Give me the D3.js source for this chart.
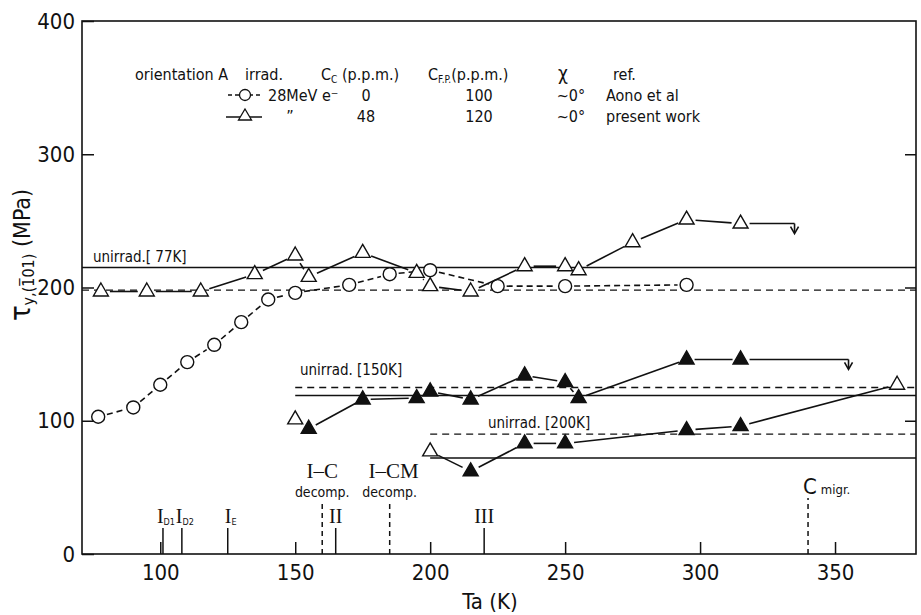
<!DOCTYPE html>
<html>
<head>
<meta charset="utf-8">
<script src="https://cdn.jsdelivr.net/npm/d3@7/dist/d3.min.js"></script>
<style>
  html, body { margin: 0; padding: 0; background: #fff; }
  svg { display: block; }
  text { fill: #111; }
</style>
</head>
<body>
<svg id="chart" width="921" height="615"></svg>
<script>
// ---------------- data ----------------
// Aono et al: 28 MeV e-, open circles, dashed line
const aonoT   = [77, 90, 100, 110, 120, 130, 140, 150, 170, 185, 200, 225, 250, 295];
const aonoTau = [103, 110, 127, 144, 157, 174, 191, 196, 202, 210, 213, 201, 201, 202];

// present work, open triangles, solid line (77 K deformation)
const openT   = [78, 95, 115, 135, 150, 155, 175, 195, 200, 215, 235, 250, 255, 275, 295, 315];
const openTau = [197, 197, 197, 210, 224, 208, 226, 211, 201, 197, 216, 216, 213, 234, 251, 248];
const openArrowT = 335;

// present work, 150 K deformation (open start, filled triangles)
const f150StartT = 150, f150StartTau = 101;
const f150T   = [155, 175, 195, 200, 215, 235, 250, 255, 295, 315];
const f150Tau = [94, 116, 117, 122, 116, 134, 129, 117, 146, 146];
const f150ArrowT = 355;

// present work, 200 K deformation (open start/end, filled triangles)
const f200StartT = 200, f200StartTau = 77;
const f200T   = [215, 235, 250, 295, 315];
const f200Tau = [62, 83, 83, 93, 96];
const f200EndT = 373, f200EndTau = 127;

// unirradiated reference levels
const unirradLabels = ["unirrad.[ 77K]", "unirrad. [150K]", "unirrad. [200K]"];
const unirradFromT  = [71, 150, 200];
const unirradSolid  = [215, 119, 72];   // present work
const unirradDashed = [198, 125, 90];   // Aono et al

// recovery stage markers
const stageT      = [101, 108, 125, 165, 220];
const stageLabels = ["I", "I", "I", "II", "III"];
const stageSubs   = ["D1", "D2", "E", "", ""];
const decompT      = [160, 185];
const decompLabels = ["I\u2013C", "I\u2013CM"];
const migrT = 340;

const yTicks = [0, 100, 200, 300, 400];
const xTicks = [100, 150, 200, 250, 300, 350];

// legend
const legendHeader = ["orientation A", "irrad.", "C", "C", "\u03c7", "ref."];
const legendIrrad  = ["28MeV e\u207b", "\u201d"];
const legendCc     = ["0", "48"];
const legendCfp    = ["100", "120"];
const legendChi    = ["~0\u00b0", "~0\u00b0"];
const legendRef    = ["Aono et al", "present work"];

// ---------------- drawing ----------------
const SANS = "'Liberation Sans Narrow','DejaVu Sans Condensed',sans-serif";
const SERIF = "'Liberation Serif','DejaVu Serif',serif";
const svg = d3.select("#chart");
const L = 82, R = 916, T = 21, B = 554;
const x = d3.scaleLinear().domain([71, 380]).range([L, R]);
const y = d3.scaleLinear().domain([0, 400]).range([B, T]);

const g = svg.append("g");

// frame
g.append("rect").attr("x", L).attr("y", T).attr("width", R - L).attr("height", B - T)
  .attr("fill", "none").attr("stroke", "#111").attr("stroke-width", 1.6);

// axes
const yAxis = d3.axisLeft(y).tickValues(yTicks).tickSizeInner(-12).tickSizeOuter(0).tickPadding(7);
const gy = g.append("g").attr("transform", `translate(${L},0)`).call(yAxis);
const yRight = d3.axisRight(y).tickValues([100, 200, 300]).tickSizeInner(-11).tickSizeOuter(0).tickFormat("");
const gyr = g.append("g").attr("transform", `translate(${R},0)`).call(yRight);
const xAxis = d3.axisBottom(x).tickValues(xTicks).tickSizeInner(-12).tickSizeOuter(0).tickPadding(10);
const gx = g.append("g").attr("transform", `translate(0,${B})`).call(xAxis);
[gy, gyr, gx].forEach(a => {
  a.select(".domain").remove();
  a.selectAll(".tick line").attr("stroke", "#111").attr("stroke-width", 1.5);
  a.selectAll(".tick text").attr("font-family", SANS).attr("font-size", 22).attr("fill", "#111");
});

// axis titles
g.append("text").attr("x", 490).attr("y", 609).attr("text-anchor", "middle")
  .attr("font-family", SANS).attr("font-size", 22).text("Ta (K)");
const yt = g.append("text").attr("transform", "translate(30,255) rotate(-90)")
  .attr("text-anchor", "middle").attr("font-family", SANS).attr("font-size", 23);
yt.append("tspan").attr("font-size", 29).text("\u03c4");
yt.append("tspan").attr("font-size", 16).attr("dy", 4).text("y,(1\u03050 1)".replace("0 ", "0"));
yt.append("tspan").attr("dy", -4).text(" (MPa)");

// unirradiated levels
unirradLabels.forEach((lab, i) => {
  g.append("line").attr("x1", x(unirradFromT[i])).attr("x2", R)
    .attr("y1", y(unirradSolid[i])).attr("y2", y(unirradSolid[i]))
    .attr("stroke", "#111").attr("stroke-width", 1.4);
  g.append("line").attr("x1", x(unirradFromT[i])).attr("x2", R)
    .attr("y1", y(unirradDashed[i])).attr("y2", y(unirradDashed[i]))
    .attr("stroke", "#111").attr("stroke-width", 1.4).attr("stroke-dasharray", "7,5");
});
g.append("text").attr("x", 93).attr("y", y(unirradSolid[0]) - 6).attr("font-family", SANS).attr("font-size", 15).text(unirradLabels[0]);
g.append("text").attr("x", 300).attr("y", y(unirradDashed[1]) - 12).attr("font-family", SANS).attr("font-size", 15).text(unirradLabels[1]);
g.append("text").attr("x", 488).attr("y", y(unirradDashed[2]) - 6).attr("font-family", SANS).attr("font-size", 15).text(unirradLabels[2]);

// helpers
function segs(pts, gap, dash) {
  for (let i = 0; i < pts.length - 1; i++) {
    const [x1, y1] = pts[i], [x2, y2] = pts[i + 1];
    const dx = x2 - x1, dy = y2 - y1, len = Math.hypot(dx, dy);
    if (len <= 2 * gap) continue;
    const ux = dx / len, uy = dy / len;
    const l = g.append("line").attr("x1", x1 + ux * gap).attr("y1", y1 + uy * gap)
      .attr("x2", x2 - ux * gap).attr("y2", y2 - uy * gap)
      .attr("stroke", "#111").attr("stroke-width", 1.6);
    if (dash) l.attr("stroke-dasharray", dash);
  }
}
const triPath = "M0,-8.5L7.5,4.5L-7.5,4.5Z";
function tri(px, py, filled) {
  g.append("path").attr("d", triPath).attr("transform", `translate(${px},${py})`)
    .attr("fill", filled ? "#111" : "#fff").attr("stroke", "#111").attr("stroke-width", 1.4);
}
function circ(px, py) {
  g.append("circle").attr("cx", px).attr("cy", py).attr("r", 6.5)
    .attr("fill", "#fff").attr("stroke", "#111").attr("stroke-width", 1.4);
}
function arrowDown(px, py) {
  g.append("line").attr("x1", px).attr("x2", px).attr("y1", py).attr("y2", py + 9)
    .attr("stroke", "#111").attr("stroke-width", 1.6);
  g.append("path").attr("d", `M${px - 4},${py + 3}L${px},${py + 10}L${px + 4},${py + 3}`)
    .attr("fill", "none").attr("stroke", "#111").attr("stroke-width", 1.6);
}

// Aono circles
const aonoPts = aonoT.map((t, i) => [x(t), y(aonoTau[i])]);
segs(aonoPts, 9, "6,4");
aonoPts.forEach(p => circ(p[0], p[1]));

// open triangles (present work)
const openPts = openT.map((t, i) => [x(t), y(openTau[i])]);
segs(openPts, 9, null);
{
  const last = openPts[openPts.length - 1];
  g.append("line").attr("x1", last[0] + 9).attr("x2", x(openArrowT)).attr("y1", last[1]).attr("y2", last[1])
    .attr("stroke", "#111").attr("stroke-width", 1.6);
  arrowDown(x(openArrowT), last[1]);
}
openPts.forEach(p => tri(p[0], p[1], false));

// 150 K series
const f150Pts = [[x(f150StartT), y(f150StartTau)]].concat(f150T.map((t, i) => [x(t), y(f150Tau[i])]));
segs(f150Pts, 8, null);
{
  const last = f150Pts[f150Pts.length - 1];
  g.append("line").attr("x1", last[0] + 9).attr("x2", x(f150ArrowT)).attr("y1", last[1]).attr("y2", last[1])
    .attr("stroke", "#111").attr("stroke-width", 1.6);
  arrowDown(x(f150ArrowT), last[1]);
}
tri(f150Pts[0][0], f150Pts[0][1], false);
f150Pts.slice(1).forEach(p => tri(p[0], p[1], true));

// 200 K series
const f200Pts = [[x(f200StartT), y(f200StartTau)]]
  .concat(f200T.map((t, i) => [x(t), y(f200Tau[i])]))
  .concat([[x(f200EndT), y(f200EndTau)]]);
segs(f200Pts, 9, null);
tri(f200Pts[0][0], f200Pts[0][1], false);
f200Pts.slice(1, -1).forEach(p => tri(p[0], p[1], true));
tri(f200Pts[f200Pts.length - 1][0], f200Pts[f200Pts.length - 1][1], false);

// recovery stages
stageT.forEach((t, i) => {
  g.append("line").attr("x1", x(t)).attr("x2", x(t)).attr("y1", B).attr("y2", B - 26)
    .attr("stroke", "#111").attr("stroke-width", 1.5);
  const tx = g.append("text").attr("x", x(t) + (stageSubs[i] ? 3 : 0)).attr("y", B - 31).attr("text-anchor", "middle")
    .attr("font-family", SERIF).attr("font-size", 20);
  tx.append("tspan").text(stageLabels[i]);
  if (stageSubs[i]) tx.append("tspan").attr("font-family", SANS).attr("font-size", 9).attr("dy", 2).text(stageSubs[i]);
});
decompT.forEach((t, i) => {
  g.append("line").attr("x1", x(t)).attr("x2", x(t)).attr("y1", B).attr("y2", B - 54)
    .attr("stroke", "#111").attr("stroke-width", 1.5).attr("stroke-dasharray", "5,4");
  g.append("text").attr("x", x(t) + (i === 0 ? 0 : 4)).attr("y", B - 76).attr("text-anchor", "middle")
    .attr("font-family", SERIF).attr("font-size", 21).text(decompLabels[i]);
  g.append("text").attr("x", x(t)).attr("y", B - 57).attr("text-anchor", "middle")
    .attr("font-family", SANS).attr("font-size", 14).text("decomp.");
});
g.append("line").attr("x1", x(migrT)).attr("x2", x(migrT)).attr("y1", B).attr("y2", B - 56)
  .attr("stroke", "#111").attr("stroke-width", 1.5).attr("stroke-dasharray", "5,4");
{
  const tx = g.append("text").attr("x", x(migrT) - 5).attr("y", B - 60).attr("font-family", SANS).attr("font-size", 22);
  tx.append("tspan").text("C");
  tx.append("tspan").attr("font-size", 13).attr("dx", 4).text("migr.");
}

// legend
const LF = 16;
const r1 = 80, r2 = 101, r3 = 122;
function lt(px, py, s, anchor) {
  return g.append("text").attr("x", px).attr("y", py).attr("font-family", SANS).attr("font-size", LF)
    .attr("text-anchor", anchor || "start").text(s);
}
lt(135, r1, legendHeader[0]);
lt(245, r1, legendHeader[1]);
{
  const t1 = lt(321, r1, ""); t1.append("tspan").text("C");
  t1.append("tspan").attr("font-size", 10).attr("dy", 3).text("C");
  t1.append("tspan").attr("dy", -3).text(" (p.p.m.)");
  const t2 = lt(428, r1, ""); t2.append("tspan").text("C");
  t2.append("tspan").attr("font-size", 10).attr("dy", 3).text("F.P.");
  t2.append("tspan").attr("dy", -3).text("(p.p.m.)");
}
g.append("text").attr("x", 563).attr("y", r1).attr("text-anchor", "middle").attr("font-family", SANS)
  .attr("font-size", 19).text(legendHeader[4]);
lt(613, r1, legendHeader[5]);

// legend symbols
g.append("line").attr("x1", 228).attr("x2", 262).attr("y1", r2 - 6).attr("y2", r2 - 6)
  .attr("stroke", "#111").attr("stroke-width", 1.4).attr("stroke-dasharray", "4,3");
g.append("circle").attr("cx", 245).attr("cy", r2 - 6).attr("r", 5.5).attr("fill", "#fff").attr("stroke", "#111").attr("stroke-width", 1.3);
g.append("line").attr("x1", 226).attr("x2", 262).attr("y1", r3 - 5).attr("y2", r3 - 5)
  .attr("stroke", "#111").attr("stroke-width", 1.5);
g.append("path").attr("d", "M0,-7L6.5,4L-6.5,4Z").attr("transform", `translate(245,${r3 - 6})`)
  .attr("fill", "#fff").attr("stroke", "#111").attr("stroke-width", 1.3);

[r2, r3].forEach((ry, i) => {
  lt(i === 0 ? 268 : 290, ry, legendIrrad[i], i === 0 ? "start" : "middle");
  lt(366, ry, legendCc[i], "middle");
  lt(479, ry, legendCfp[i], "middle");
  lt(571, ry, legendChi[i], "middle");
  lt(606, ry, legendRef[i]);
});
</script>
</body>
</html>
